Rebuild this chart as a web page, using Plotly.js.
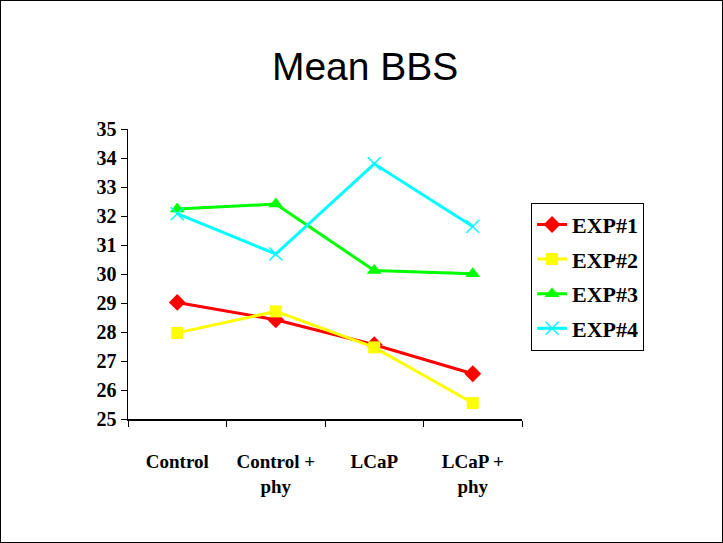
<!DOCTYPE html>
<html><head><meta charset="utf-8">
<script src="https://cdn.plot.ly/plotly-3.0.1.min.js"></script>
<style>html,body{margin:0;padding:0;background:#fff}#wrap{position:relative;width:723px;height:543px}#frame{position:absolute;left:0;top:0;width:721px;height:541px;border:1px solid #000;pointer-events:none}</style>
</head><body><div id="wrap"><div id="plot" style="width:723px;height:543px"></div><div id="frame"></div></div>
<script>
const categories = ["Control", "Control +<br>phy", "LCaP", "LCaP +<br>phy"];
const exp1 = [29.02, 28.42, 27.56, 26.56];
const exp2 = [27.97, 28.71, 27.47, 25.55];
const exp3 = [32.24, 32.41, 30.12, 30.01];
const exp4 = [32.08, 30.69, 33.80, 31.64];
const seriesNames = ["EXP#1", "EXP#2", "EXP#3", "EXP#4"];

const colors = ["#ff0000", "#ffff00", "#00ff00", "#00ffff"];
const symbols = ["diamond", "square", "triangle-up", "x-thin-open"];
const sizes = [13, 12, 13, 13];
const data = [exp1, exp2, exp3, exp4].map((v, i) => ({
  x: categories, y: v, type: "scatter", mode: "lines+markers", name: seriesNames[i],
  legendgroup: "g" + i,
  line: {color: colors[i], width: 3},
  marker: {symbol: symbols[i], size: sizes[i], color: colors[i], line: {color: colors[i], width: i === 3 ? 1.5 : 0}}
}));

const serif = "Liberation Serif, Times New Roman, serif";
const layout = {
  width: 723, height: 543,
  margin: {l: 128, r: 201, t: 129, b: 124},
  paper_bgcolor: "#fff", plot_bgcolor: "#fff",
  title: {text: "Mean BBS", font: {family: "Liberation Sans, Arial, sans-serif", size: 39, color: "#000"},
          x: 0.505, xref: "container", xanchor: "center", y: 0.878, yref: "container", yanchor: "middle"},
  xaxis: {type: "category", range: [-0.5, 3.5], showgrid: false, zeroline: false,
          showline: true, linecolor: "#000", linewidth: 1.5,
          ticks: "outside", tickson: "boundaries", ticklen: 6, tickcolor: "#000", tickwidth: 1,
          ticklabelstandoff: 25,
          tickfont: {family: serif, size: 19, color: "#000", weight: "bold"}},
  yaxis: {range: [25, 35], dtick: 1, showgrid: false, zeroline: false,
          showline: true, linecolor: "#000", linewidth: 1.5,
          ticks: "outside", ticklen: 6, tickcolor: "#000", tickwidth: 1,
          tickfont: {family: serif, size: 20, color: "#000", weight: "bold"}},
  legend: {x: 1.023, y: 0.746, xanchor: "left", yanchor: "top", bordercolor: "#000", borderwidth: 1,
           bgcolor: "#fff", tracegroupgap: 3, itemwidth: 30,
           font: {family: serif, size: 22, color: "#000", weight: "bold"}},
  showlegend: true
};
Plotly.newPlot("plot", data, layout, {displayModeBar: false, staticPlot: true});
</script></body></html>
